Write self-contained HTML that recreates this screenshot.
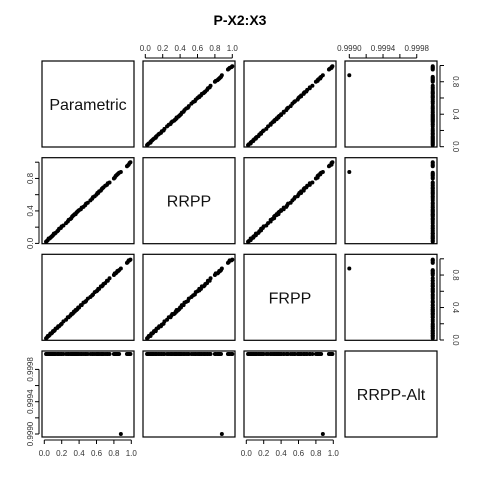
<!DOCTYPE html>
<html><head><meta charset="utf-8"><style>
body{margin:0;background:#fff;}
svg text{font-family:"Liberation Sans",sans-serif;}
</style></head><body>
<svg id="c" width="480" height="480" xmlns="http://www.w3.org/2000/svg">
<text x="240" y="25" text-anchor="middle" font-size="14" font-weight="bold">P-X2:X3</text>
</svg>
<script>
const varNames = ["Parametric","RRPP","FRPP","RRPP-Alt"];
const param = [0.02,0.03,0.04,0.05,0.06,0.07,0.08,0.09,0.10,0.11,0.12,0.13,0.15,0.16,0.17,0.19,0.20,0.22,0.25,0.27,0.28,0.30,0.31,0.32,0.33,0.34,0.35,0.36,0.37,0.38,0.39,0.40,0.42,0.43,0.45,0.47,0.48,0.50,0.53,0.55,0.56,0.58,0.60,0.61,0.62,0.63,0.65,0.66,0.67,0.68,0.70,0.72,0.73,0.75,0.80,0.81,0.82,0.83,0.84,0.85,0.86,0.88,0.95,0.96,0.97,0.98,0.99];
const rrpp = [0.02,0.03,0.04,0.06,0.06,0.07,0.08,0.09,0.10,0.12,0.12,0.13,0.15,0.16,0.18,0.19,0.21,0.22,0.25,0.27,0.29,0.30,0.31,0.33,0.34,0.35,0.36,0.36,0.38,0.39,0.40,0.41,0.42,0.44,0.45,0.47,0.49,0.50,0.53,0.55,0.57,0.58,0.60,0.62,0.62,0.64,0.65,0.67,0.68,0.69,0.71,0.72,0.74,0.75,0.80,0.81,0.83,0.84,0.85,0.86,0.87,0.88,0.95,0.96,0.97,0.99,1.00];
const frpp = [0.02,0.03,0.05,0.05,0.06,0.08,0.08,0.09,0.11,0.11,0.12,0.14,0.15,0.17,0.17,0.19,0.20,0.23,0.25,0.28,0.28,0.30,0.32,0.32,0.33,0.35,0.35,0.37,0.37,0.38,0.40,0.40,0.43,0.43,0.46,0.47,0.48,0.51,0.53,0.55,0.56,0.59,0.60,0.61,0.63,0.63,0.66,0.66,0.67,0.69,0.70,0.73,0.73,0.76,0.80,0.82,0.82,0.83,0.85,0.85,0.86,0.88,0.95,0.96,0.98,0.98,0.99];
const alt = param.map(v => v===0.88 ? 0.99900 : 0.99999);
const unitTicks = [0,0.2,0.4,0.6,0.8,1.0];
const unitLabels = ["0.0","0.2","0.4","0.6","0.8","1.0"];
const altTicks = [0.9990,0.9992,0.9994,0.9996,0.9998];
const altLabels = ["0.9990","","0.9994","","0.9998"];
const unitYLabels = ["0.0","","0.4","","0.8",""];

const svg = document.getElementById('c');
const NS = "http://www.w3.org/2000/svg";
const colX = [42,143,244,345], rowY = [61,157.7,254.3,351], W = 92, H = 86;
const data = [param, rrpp, frpp, alt];
function sx(k,c,v){ return k===3 ? colX[c]+4.3+(v-0.999)*84300 : colX[c]+2.3+87*v; }
function sy(k,r,v){ return k===3 ? rowY[r]+83-(v-0.999)*80750 : rowY[r]+85.7-81.2*v; }
function mk(tag, attrs){ const e=document.createElementNS(NS,tag); for(const a in attrs) e.setAttribute(a,attrs[a]); svg.appendChild(e); return e; }

for(let r=0;r<4;r++) for(let c=0;c<4;c++){
  const b = mk('rect',{x:colX[c],y:rowY[r],width:W,height:H,fill:'none',stroke:'#000','stroke-width':1.2});
  
  
  if(r===c){
    const t = mk('text',{x:colX[c]+W/2,y:rowY[r]+H/2+6,'text-anchor':'middle','font-size':16,fill:'#111'});
    t.textContent = varNames[r];
    
    
    continue;
  }
  const xs = data[c], ys = data[r];
  for(let i=0;i<xs.length;i++){
    const p = mk('circle',{cx:sx(c,c,xs[i]),cy:sy(r,r,ys[i]),r:2,fill:'#000'});
    
    
  }
}
// x axes
function xAxis(c, top){
  const k=c, ticks = k===3?altTicks:unitTicks, labs = k===3?altLabels:unitLabels;
  const y0 = top ? rowY[0] : rowY[3]+H;
  const d = top ? -1 : 1;
  const x1 = sx(k,c,ticks[0]), x2 = sx(k,c,ticks[ticks.length-1]);
  const ax = mk('line',{x1:x1,x2:x2,y1:y0+d*3,y2:y0+d*3,stroke:'#000'});
  
  
  ticks.forEach((t,i)=>{
    const x = sx(k,c,t);
    mk('line',{x1:x,x2:x,y1:y0+d*3,y2:y0+d*7,stroke:'#000'});
    if(labs[i]){
      const tx = mk('text',{x:x,y:top? y0-10 : y0+19,'text-anchor':'middle','font-size':8,fill:'#333'});
      tx.textContent = labs[i];
      
      
    }
  });
}
function yAxis(r, right){
  const k=r, ticks = k===3?altTicks:unitTicks, labs = k===3?altLabels:unitYLabels;
  const x0 = right ? colX[3]+W : colX[0];
  const d = right ? 1 : -1;
  const y1 = sy(k,r,ticks[0]), y2 = sy(k,r,ticks[ticks.length-1]);
  const ax = mk('line',{x1:x0+d*3,x2:x0+d*3,y1:y1,y2:y2,stroke:'#000'});
  
  
  ticks.forEach((t,i)=>{
    const y = sy(k,r,t);
    mk('line',{x1:x0+d*3,x2:x0+d*7,y1:y,y2:y,stroke:'#000'});
    if(labs[i]){
      const lx = right ? x0+15 : x0-12;
      const tx = mk('text',{x:lx,y:y,'text-anchor':'middle','font-size':8,fill:'#333',transform:'rotate(90 '+lx+' '+y+')'});
      if(!right) tx.setAttribute('transform','rotate(-90 '+lx+' '+y+')');
      tx.setAttribute('dy', right ? '-1' : '3');
      tx.textContent = labs[i];
      
      
    }
  });
}
xAxis(1,true); xAxis(3,true); xAxis(0,false); xAxis(2,false);
yAxis(0,true); yAxis(2,true); yAxis(1,false); yAxis(3,false);
</script>
</body></html>
